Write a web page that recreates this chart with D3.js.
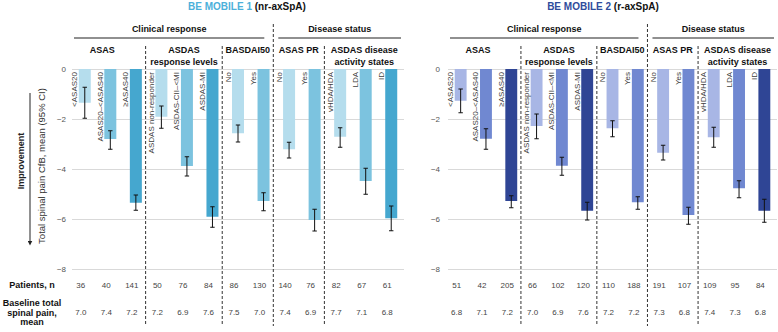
<!DOCTYPE html>
<html><head><meta charset="utf-8">
<script src="https://cdn.jsdelivr.net/npm/d3@7"></script>
<style>body{margin:0;background:#fff;} svg{display:block;font-family:"Liberation Sans",Arial,sans-serif;}</style>
</head><body><svg id="c" width="778" height="332"></svg>
<script>
const categories = ["<ASAS20","ASAS20\u2013<ASAS40","\u2265ASAS40","ASDAS non-responder","ASDAS-CII\u2013<MI","ASDAS-MI","No","Yes","No","Yes","vHDA/HDA","LDA","ID"];
const shadeIndex = [0,1,2,0,1,2,0,1,0,1,0,1,2];
const yTicks = [0,-2,-4,-6,-8];

const m1Mean  = [-1.35,-2.80,-5.35,-1.91,-3.88,-5.91,-2.57,-5.28,-3.21,-6.04,-2.71,-4.48,-5.97];
const m1Upper = [-0.73,-2.47,-5.04,-1.48,-3.51,-5.51,-2.24,-4.95,-2.93,-5.61,-2.35,-3.97,-5.48];
const m1Lower = [-1.97,-3.21,-5.65,-2.37,-4.28,-6.33,-2.92,-5.67,-3.56,-6.48,-3.13,-5.01,-6.47];
const m1Patients = [36,40,141,50,76,84,86,130,140,76,82,67,61];
const m1Baseline = ["7.0","7.4","7.2","7.2","6.9","7.6","7.5","7.0","7.4","6.9","7.7","7.1","6.8"];

const m2Mean  = [-1.27,-2.79,-5.28,-2.28,-3.87,-5.67,-2.37,-5.33,-3.35,-5.84,-2.73,-4.77,-5.67];
const m2Upper = [-0.80,-2.39,-5.07,-1.80,-3.53,-5.33,-2.07,-5.11,-3.05,-5.53,-2.33,-4.47,-5.21];
const m2Lower = [-1.75,-3.21,-5.55,-2.79,-4.25,-6.04,-2.71,-5.61,-3.64,-6.21,-3.13,-5.15,-6.13];
const m2Patients = [51,42,205,66,102,120,110,188,191,107,109,95,84];
const m2Baseline = ["6.8","7.1","7.2","7.0","6.9","7.6","7.2","7.2","7.3","6.8","7.4","7.3","6.8"];

const subGroups = [
  {lines:["ASAS"], start:0, end:3},
  {lines:["ASDAS","response levels"], start:3, end:6},
  {lines:["BASDAI50"], start:6, end:8},
  {lines:["ASAS PR"], start:8, end:10},
  {lines:["ASDAS disease","activity states"], start:10, end:13}
];
const sections = [{name:"Clinical response", start:0, end:8},{name:"Disease status", start:8, end:13}];

const panels = [
  {title:"BE MOBILE 1", sub:" (nr-axSpA)", titleColor:"#4cb0da", x0:72, x1:404, cx:247, pad:6,
   colors:["#b5dded","#7cc3df","#45a7cf"], mean:m1Mean, up:m1Upper, lo:m1Lower, pat:m1Patients, base:m1Baseline},
  {title:"BE MOBILE 2", sub:" (r-axSpA)", titleColor:"#2f4c9c", x0:448, x1:777, cx:603, pad:8,
   colors:["#a8b6e5","#7088d1","#2f4595"], mean:m2Mean, up:m2Upper, lo:m2Lower, pat:m2Patients, base:m2Baseline}
];

const svg = d3.select("#c");
const y = d3.scaleLinear().domain([0,-8]).range([69,269]);

panels.forEach(p => {
  const g = svg.append("g");
  const x = d3.scaleBand().domain(d3.range(categories.length)).range([p.x0,p.x1]).paddingInner(0.53).paddingOuter(0.265);
  const step = x.step();
  const bnd = k => p.x0 + step*k;
  const cx = i => x(i) + x.bandwidth()/2;

  // title
  const t = g.append("text").attr("x",p.cx).attr("y",10).attr("text-anchor","middle")
    .attr("font-size",10).attr("font-weight","bold");
  t.append("tspan").attr("fill",p.titleColor).text(p.title);
  t.append("tspan").attr("fill","#111").text(p.sub);

  // grid / axis
  const ax = g.append("g").attr("transform",`translate(${p.x0},0)`)
    .call(d3.axisLeft(y).tickValues(yTicks).tickSize(-(p.x1-p.x0)).tickPadding(p.pad).tickFormat(d3.format("d")));
  ax.select(".domain").remove();
  ax.selectAll("line").attr("stroke","#d9d9d9");
  ax.selectAll("text").attr("fill","#555").attr("font-size",8).attr("font-family","Liberation Sans, Arial, sans-serif");

  // sections
  sections.forEach(s => {
    const a = s.start===0 ? p.x0+2 : bnd(s.start)+2;
    const b = s.end===categories.length ? p.x1-3 : bnd(s.end)-12;
    g.append("line").attr("x1",a).attr("x2",b).attr("y1",38).attr("y2",38).attr("stroke","#222").attr("stroke-width",1.2);
    g.append("text").attr("x",(a+b)/2).attr("y",32).attr("text-anchor","middle")
      .attr("font-size",9).attr("font-weight","bold").attr("fill","#111").text(s.name);
  });

  // subgroup headers
  subGroups.forEach(sg => {
    const a = sg.start===0 ? p.x0-13 : bnd(sg.start)-3;
    const b = sg.end===categories.length ? p.x1 : bnd(sg.end)-3;
    sg.lines.forEach((ln,j) => {
      g.append("text").attr("x",(a+b)/2).attr("y",53+j*12).attr("text-anchor","middle")
        .attr("font-size",9).attr("font-weight","bold").attr("fill","#111").text(ln);
    });
  });

  // dashed separators
  [3,6,8,10].forEach(k => {
    g.append("line").attr("x1",bnd(k)-3).attr("x2",bnd(k)-3)
      .attr("y1", k===8 ? 24 : 46).attr("y2",326)
      .attr("stroke","#333").attr("stroke-width",1).attr("stroke-dasharray","3,2");
  });

  // bars
  g.selectAll("rect.bar").data(p.mean).join("rect").attr("class","bar")
    .attr("x",(d,i)=>x(i)).attr("width",x.bandwidth())
    .attr("y",y(0)).attr("height",d=>y(d)-y(0))
    .attr("fill",(d,i)=>p.colors[shadeIndex[i]]);

  // error bars
  const eb = g.selectAll("g.eb").data(p.mean).join("g").attr("class","eb");
  eb.append("line").attr("x1",(d,i)=>cx(i)).attr("x2",(d,i)=>cx(i))
    .attr("y1",(d,i)=>y(p.up[i])).attr("y2",(d,i)=>y(p.lo[i])).attr("stroke","#111").attr("stroke-width",1);
  eb.append("line").attr("x1",(d,i)=>cx(i)-2.2).attr("x2",(d,i)=>cx(i)+2.2)
    .attr("y1",(d,i)=>y(p.up[i])).attr("y2",(d,i)=>y(p.up[i])).attr("stroke","#111").attr("stroke-width",1);
  eb.append("line").attr("x1",(d,i)=>cx(i)-2.2).attr("x2",(d,i)=>cx(i)+2.2)
    .attr("y1",(d,i)=>y(p.lo[i])).attr("y2",(d,i)=>y(p.lo[i])).attr("stroke","#111").attr("stroke-width",1);

  // category labels (rotated)
  g.selectAll("text.cat").data(categories).join("text").attr("class","cat")
    .attr("transform",(d,i)=>`translate(${cx(i)-7.5},${y(0)+3}) rotate(-90)`)
    .attr("text-anchor","end").attr("font-size",8).attr("fill","#404040").text(d=>d);

  // table values
  g.selectAll("text.pat").data(p.pat).join("text").attr("class","pat")
    .attr("x",(d,i)=>cx(i)-4).attr("y",288).attr("text-anchor","middle")
    .attr("font-size",8).attr("fill","#444").text(d=>d);
  g.selectAll("text.base").data(p.base).join("text").attr("class","base")
    .attr("x",(d,i)=>cx(i)-4).attr("y",315).attr("text-anchor","middle")
    .attr("font-size",8).attr("fill","#444").text(d=>d);
});

// y-axis title and arrow
svg.append("text").attr("transform","translate(45,166) rotate(-90)").attr("text-anchor","middle")
  .attr("font-size",9.5).attr("fill","#333").text("Total spinal pain CfB, mean (95% CI)");
svg.append("text").attr("transform","translate(24,161) rotate(-90)").attr("text-anchor","middle")
  .attr("font-size",9).attr("font-weight","bold").attr("fill","#222").text("Improvement");
svg.append("defs").append("marker").attr("id","ah").attr("viewBox","0 0 10 10").attr("refX",5).attr("refY",5)
  .attr("markerWidth",5).attr("markerHeight",5).attr("orient","auto")
  .append("path").attr("d","M0,0L10,5L0,10Z").attr("fill","#222");
svg.append("line").attr("x1",30).attr("x2",30).attr("y1",93).attr("y2",243)
  .attr("stroke","#222").attr("stroke-width",1).attr("marker-end","url(#ah)");

// table row labels
svg.append("text").attr("x",32).attr("y",288).attr("text-anchor","middle").attr("font-size",9)
  .attr("font-weight","bold").attr("fill","#111").text("Patients, n");
["Baseline total","spinal pain,","mean"].forEach((s,j)=>{
  svg.append("text").attr("x",32).attr("y",306+j*9.5).attr("text-anchor","middle").attr("font-size",9)
    .attr("font-weight","bold").attr("fill","#111").text(s);
});
</script></body></html>
